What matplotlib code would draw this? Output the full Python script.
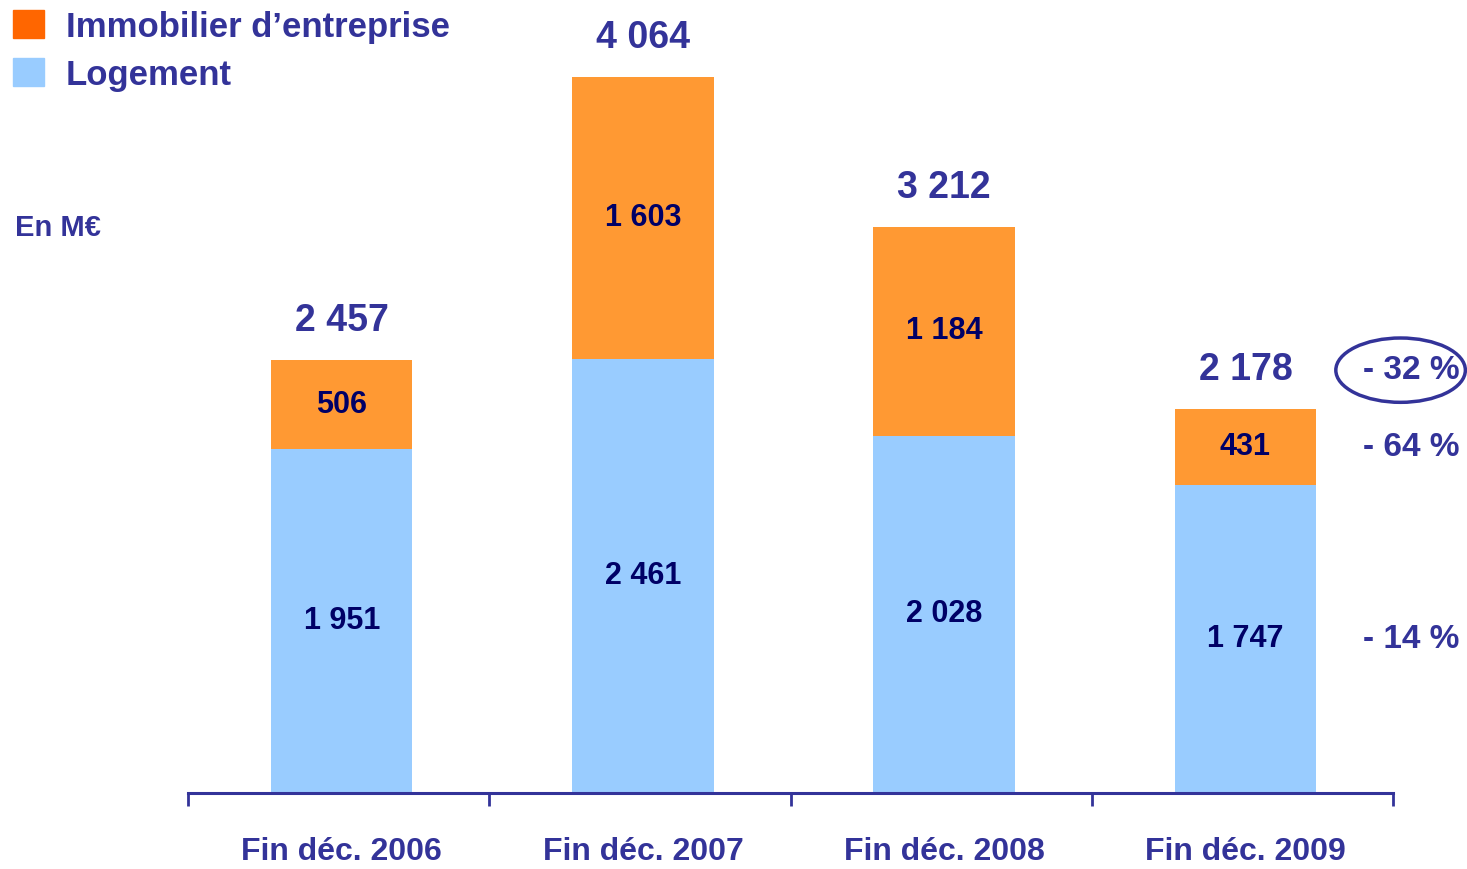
import matplotlib
matplotlib.use("Agg")
import matplotlib.pyplot as plt
from matplotlib.patches import Ellipse, Rectangle

plt.rcParams['font.family'] = ['Liberation Sans Narrow', 'Liberation Sans', 'DejaVu Sans']
plt.rcParams['font.weight'] = 'bold'

categories = ['Fin déc. 2006', 'Fin déc. 2007', 'Fin déc. 2008', 'Fin déc. 2009']
logement = [1951, 2461, 2028, 1747]
immobilier = [506, 1603, 1184, 431]
totals = [2457, 4064, 3212, 2178]
variations = ['- 32 %', '- 64 %', '- 14 %']

navy = '#333399'
dark = '#000066'
c_orange = '#FF9933'
c_blue = '#99CCFF'

fig = plt.figure(figsize=(14.67, 8.69), dpi=100)
ax = fig.add_axes([0.1282, 0.0875, 0.8214, 0.9125])

x = [i + 0.01 for i in range(len(categories))]
ax.bar(x, logement, width=0.47, color=c_blue)
ax.bar(x, immobilier, width=0.47, bottom=logement, color=c_orange)

for i in range(len(categories)):
    ax.text(x[i], logement[i] / 2, f"{logement[i]:,}".replace(',', ' '),
            ha='center', va='center', fontsize=22, color=dark)
    ax.text(x[i], logement[i] + immobilier[i] / 2, f"{immobilier[i]:,}".replace(',', ' '),
            ha='center', va='center', fontsize=22, color=dark)
    ax.annotate(f"{totals[i]:,}".replace(',', ' '), (x[i], totals[i]),
                xytext=(0, 28), textcoords='offset points',
                ha='center', va='center', fontsize=27, color=navy)

ax.set_xlim(-0.5, 3.5)
ax.set_ylim(0, 4500)
for s in ['top', 'right', 'left']:
    ax.spines[s].set_visible(False)
ax.spines['bottom'].set_color(navy)
ax.spines['bottom'].set_linewidth(2.2)
ax.set_yticks([])
ax.set_xticks([-0.5, 0.5, 1.5, 2.5, 3.5])
ax.set_xticklabels([])
ax.tick_params(axis='x', which='major', direction='out', length=9, width=2, color=navy)
ax.set_xticks(x, minor=True)
ax.set_xticklabels(categories, minor=True)
ax.tick_params(axis='x', which='minor', length=0, pad=32, labelsize=23, labelcolor=navy)

# variations 2009 vs 2008
px = 3.56
y32 = totals[3] + 39 / 0.1762
ax.text(px, y32, variations[0], ha='center', va='center',
        fontsize=24, color=navy, clip_on=False)
ax.text(px, logement[3] + immobilier[3] / 2, variations[1], ha='center', va='center',
        fontsize=24, color=navy, clip_on=False)
ax.text(px, logement[3] / 2, variations[2], ha='center', va='center',
        fontsize=24, color=navy, clip_on=False)
ell = Ellipse((3.525, y32), 0.43, 365, fill=False,
              edgecolor=navy, linewidth=2.5, clip_on=False)
ax.add_patch(ell)

# legend
fig.patches.append(Rectangle((13 / 1467, 1 - 38 / 869), 31 / 1467, 28 / 869,
                             transform=fig.transFigure, color='#FF6600'))
fig.patches.append(Rectangle((13 / 1467, 1 - 86 / 869), 31 / 1467, 28 / 869,
                             transform=fig.transFigure, color=c_blue))
fig.text(66 / 1467, 1 - 27 / 869, "Immobilier d’entreprise", ha='left', va='center',
         fontsize=25, color=navy)
fig.text(66 / 1467, 1 - 75 / 869, "Logement", ha='left', va='center',
         fontsize=25, color=navy)
fig.text(15 / 1467, 1 - 228 / 869, "En M€", ha='left', va='center',
         fontsize=21, color=navy)

fig.savefig('out.png', dpi=100)
